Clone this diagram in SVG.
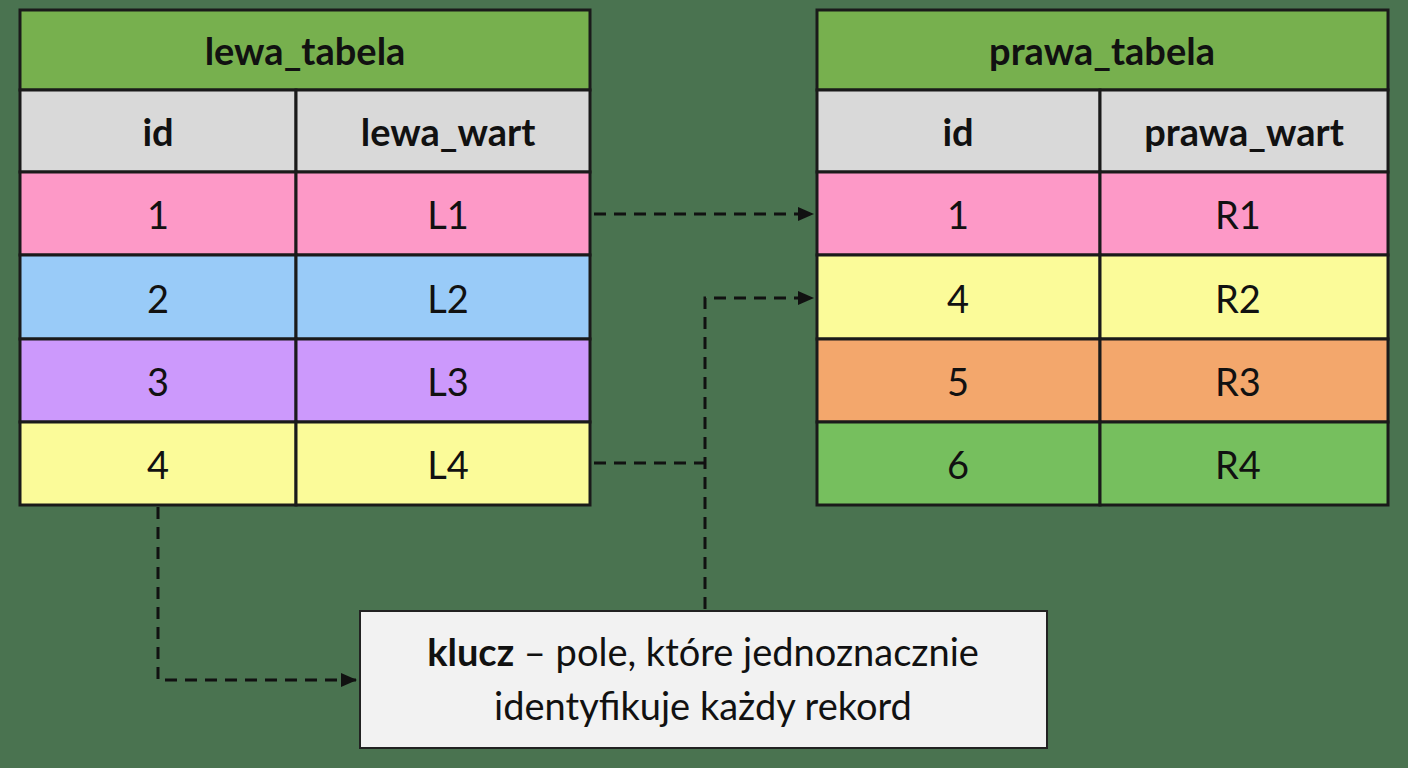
<svg xmlns="http://www.w3.org/2000/svg" width="1408" height="768" viewBox="0 0 1408 768">
<defs>
<style>
.c{stroke:#1a1a1a;stroke-width:3}
text{font-family:Lato,"Open Sans",sans-serif;font-size:38px;fill:#111;text-anchor:middle;dominant-baseline:central}
.b{font-weight:bold}
.d{fill:none;stroke:#111;stroke-width:3;stroke-dasharray:12 8}
</style>
<marker id="a" markerWidth="10" markerHeight="10" refX="9" refY="5" orient="auto" markerUnits="userSpaceOnUse"><path d="M0,0 L10,5 L0,10 Z" fill="#111" transform="scale(1.6) translate(-3.5,-1.9)"/></marker>
<marker id="m" markerWidth="16" markerHeight="14" refX="15" refY="7" orient="auto" markerUnits="userSpaceOnUse"><path d="M0,0 L16,7 L0,14 Z" fill="#111"/></marker>
</defs>
<rect width="1408" height="768" fill="#4a7350"/>
<g id="lewa_tabela">
<rect class="c" x="20" y="10" width="570" height="80" fill="#77b04e"/>
<rect class="c" x="20" y="90" width="276" height="82" fill="#d9d9d9"/><rect class="c" x="296" y="90" width="294" height="82" fill="#d9d9d9"/>
<rect class="c" x="20" y="172" width="276" height="83" fill="#fd99c7"/><rect class="c" x="296" y="172" width="294" height="83" fill="#fd99c7"/>
<rect class="c" x="20" y="255" width="276" height="84" fill="#99cbf8"/><rect class="c" x="296" y="255" width="294" height="84" fill="#99cbf8"/>
<rect class="c" x="20" y="339" width="276" height="83" fill="#cc99fc"/><rect class="c" x="296" y="339" width="294" height="83" fill="#cc99fc"/>
<rect class="c" x="20" y="422" width="276" height="83" fill="#fbfb99"/><rect class="c" x="296" y="422" width="294" height="83" fill="#fbfb99"/>
<text class="b" x="305" y="50">lewa_tabela</text>
<text class="b" x="158" y="131">id</text><text class="b" x="448" y="131">lewa_wart</text>
<text x="158" y="214">1</text><text x="448" y="214">L1</text>
<text x="158" y="298">2</text><text x="448" y="298">L2</text>
<text x="158" y="381">3</text><text x="448" y="381">L3</text>
<text x="158" y="464">4</text><text x="448" y="464">L4</text>
</g>
<g id="prawa_tabela">
<rect class="c" x="817" y="10" width="571" height="80" fill="#77b04e"/>
<rect class="c" x="817" y="90" width="283" height="82" fill="#d9d9d9"/><rect class="c" x="1100" y="90" width="288" height="82" fill="#d9d9d9"/>
<rect class="c" x="817" y="172" width="283" height="83" fill="#fd99c7"/><rect class="c" x="1100" y="172" width="288" height="83" fill="#fd99c7"/>
<rect class="c" x="817" y="255" width="283" height="84" fill="#fbfb99"/><rect class="c" x="1100" y="255" width="288" height="84" fill="#fbfb99"/>
<rect class="c" x="817" y="339" width="283" height="83" fill="#f3a76c"/><rect class="c" x="1100" y="339" width="288" height="83" fill="#f3a76c"/>
<rect class="c" x="817" y="422" width="283" height="83" fill="#76bf5e"/><rect class="c" x="1100" y="422" width="288" height="83" fill="#76bf5e"/>
<text class="b" x="1102" y="50">prawa_tabela</text>
<text class="b" x="958" y="131">id</text><text class="b" x="1244" y="131">prawa_wart</text>
<text x="958" y="214">1</text><text x="1238" y="214">R1</text>
<text x="958" y="298">4</text><text x="1238" y="298">R2</text>
<text x="958" y="381">5</text><text x="1238" y="381">R3</text>
<text x="958" y="464">6</text><text x="1238" y="464">R4</text>
</g>
<g id="klucz">
<rect x="360" y="611" width="687" height="137" fill="#f2f2f2" stroke="#222" stroke-width="2"/>
<text x="703" y="651"><tspan class="b">klucz</tspan> – pole, które jednoznacznie</text>
<text x="703" y="705">identyfikuje każdy rekord</text>
</g>
<g id="connectors">
<path class="d" d="M594,214 H813" marker-end="url(#m)"/>
<path class="d" d="M594,463 H705"/>
<path class="d" d="M705,609 V298 H813" marker-end="url(#m)"/>
<path class="d" d="M158,507 V680 H356" marker-end="url(#m)"/>
</g>
</svg>
